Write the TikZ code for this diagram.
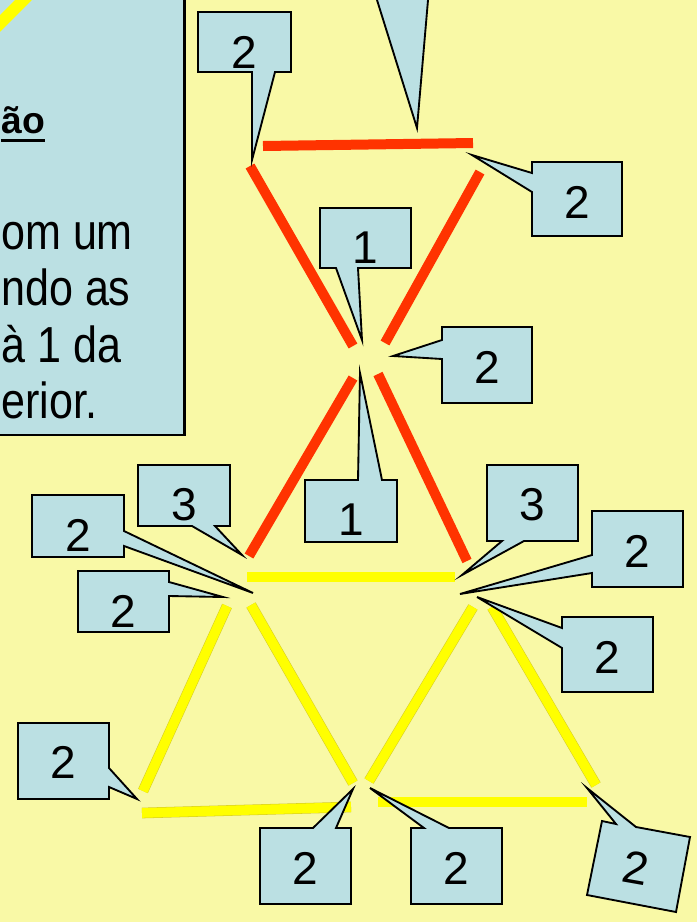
\documentclass[tikz,border=0pt]{standalone}
\usepackage{fontspec}
\setmainfont{Liberation Sans}
\newfontfamily\bodyfont[FakeStretch=0.85]{Liberation Sans}

\definecolor{paper}{RGB}{249,249,166}
\definecolor{bubbleblue}{RGB}{187,224,227}
\definecolor{stickred}{RGB}{255,51,0}
\definecolor{stickyellow}{RGB}{255,255,0}
\definecolor{stickedge}{RGB}{214,204,40}

\tikzset{
  redstick/.style={draw=stickred, line width=7.5pt},
  yellowstick/.style={draw=stickedge, double=stickyellow, line width=0.4pt, double distance=7.2pt},
  bubble/.style={fill=bubbleblue, draw=black, line width=1.4pt, line join=miter},
  digit/.style={font=\fontsize{34.5}{40}\selectfont, inner sep=0pt},
  bodytext/.style={font=\bodyfont\fontsize{38}{44}\selectfont, inner sep=0pt, anchor=base west},
  titletext/.style={font=\bfseries\fontsize{28}{34}\selectfont, inner sep=0pt, anchor=base west}
}

\begin{document}
\begin{tikzpicture}[x=0.75pt,y=-0.75pt]
	\useasboundingbox (0,0) rectangle (697,922);
	\clip (0,0) rectangle (697,922);
	\fill[paper] (0,0) rectangle (697,922);

	% text box at the left
	\draw[fill=bubbleblue, line width=1.8pt] (-20,-20) rectangle (184.5,435);
	\draw[stickyellow, line width=9pt] (-4,27.5) -- (27.5,-4);
	\node[titletext] (ttl) at (1,133) {ão};
	\draw[line width=2.25pt] ([yshift=-5.6pt]ttl.base west) -- ([yshift=-5.6pt]ttl.base east);
	\node[bodytext] (l1) at (1,249) {om um};
	\node[bodytext] (l2) at (1,305.5) {ndo as};
	\node[bodytext] (l3) at (1,362) {à 1 da};
	\node[bodytext] (l4) at (1,418) {erior.};

	% red sticks
	\draw[redstick] (263,146) -- (473,143);
	\draw[redstick] (250,166) -- (353,346);
	\draw[redstick] (480,172) -- (385,343);
	\draw[redstick] (353,378) -- (249,556);
	\draw[redstick] (378,374) -- (467,561);

	% yellow sticks
	\draw[yellowstick] (247,577) -- (455,577);
	\draw[yellowstick] (227,606) -- (143,791);
	\draw[yellowstick] (251,605) -- (353,783);
	\draw[yellowstick] (142,813) -- (351,807);
	\draw[yellowstick] (473,607) -- (369,781);
	\draw[yellowstick] (492,607) -- (596,785);
	\draw[yellowstick] (378,802) -- (587,802);

	% callouts
	\draw[bubble] (320,-90) -- (440,-90) -- (440,-8) -- (428.7,-8) -- (417,128) -- (374.5,-8) -- (320,-8) -- cycle;

	\draw[bubble] (198,12) -- (291,12) -- (291,72) -- (275,72) -- (252,160) -- (252,72) -- (198,72) -- cycle;
	\node[digit] (a1) at (244.5,52) {2};

	\draw[bubble] (532,162) -- (622,162) -- (622,236) -- (532,236) -- (532,192) -- (472,155) -- (532,173) -- cycle;
	\node[digit] (a2) at (577,202) {2};

	\draw[bubble] (320,208) -- (411,208) -- (411,268) -- (358,268) -- (362,340) -- (336,268) -- (320,268) -- cycle;
	\node[digit] (a3) at (365.5,248) {1};

	\draw[bubble] (442,327) -- (532,327) -- (532,403) -- (442,403) -- (442,359) -- (393,356) -- (442,340) -- cycle;
	\node[digit] (a4) at (487,367) {2};

	\draw[bubble] (305,480) -- (358,480) -- (360,373) -- (382,480) -- (397,480) -- (397,542) -- (305,542) -- cycle;
	\node[digit] (a5) at (351,520) {1};

	\draw[bubble] (138,465) -- (230,465) -- (230,526) -- (215,526) -- (242,555) -- (192,526) -- (138,526) -- cycle;
	\node[digit] (a6) at (184,505) {3};

	\draw[bubble] (32,495) -- (124,495) -- (124,531) -- (253,593) -- (124,546) -- (124,557) -- (32,557) -- cycle;
	\node[digit] (a7) at (78,535) {2};

	\draw[bubble] (78,571) -- (169,571) -- (169,582) -- (223,597) -- (169,596) -- (169,632) -- (78,632) -- cycle;
	\node[digit] (a8) at (123.5,611) {2};

	\draw[bubble] (487,465) -- (578,465) -- (578,541) -- (524,541) -- (462,575) -- (502,541) -- (487,541) -- cycle;
	\node[digit] (a9) at (532.5,505) {3};

	\draw[bubble] (592,511) -- (683,511) -- (683,587) -- (592,587) -- (592,573) -- (460,594) -- (592,555) -- cycle;
	\node[digit] (a10) at (637.5,551) {2};

	\draw[bubble] (562,617) -- (653,617) -- (653,692) -- (562,692) -- (562,648) -- (477,597) -- (562,628) -- cycle;
	\node[digit] (a11) at (607.5,657) {2};

	\draw[bubble] (18,723) -- (109,723) -- (109,768) -- (137,799) -- (109,787) -- (109,799) -- (18,799) -- cycle;
	\node[digit] (a12) at (63.5,762) {2};

	\draw[bubble] (260,828) -- (313,828) -- (353,789) -- (336,828) -- (351,828) -- (351,904) -- (260,904) -- cycle;
	\node[digit] (a13) at (305.5,868) {2};

	\draw[bubble] (411,828) -- (424,828) -- (370,788) -- (449,828) -- (502,828) -- (502,904) -- (411,904) -- cycle;
	\node[digit] (a14) at (456.5,868) {2};

	\draw[bubble] (602,821) -- (616,824) -- (587,788) -- (636,827) -- (690,837) -- (676,912) -- (587,895) -- cycle;
	\node[digit, rotate=-10] (a15) at (636,868) {2};
\end{tikzpicture}
\end{document}
